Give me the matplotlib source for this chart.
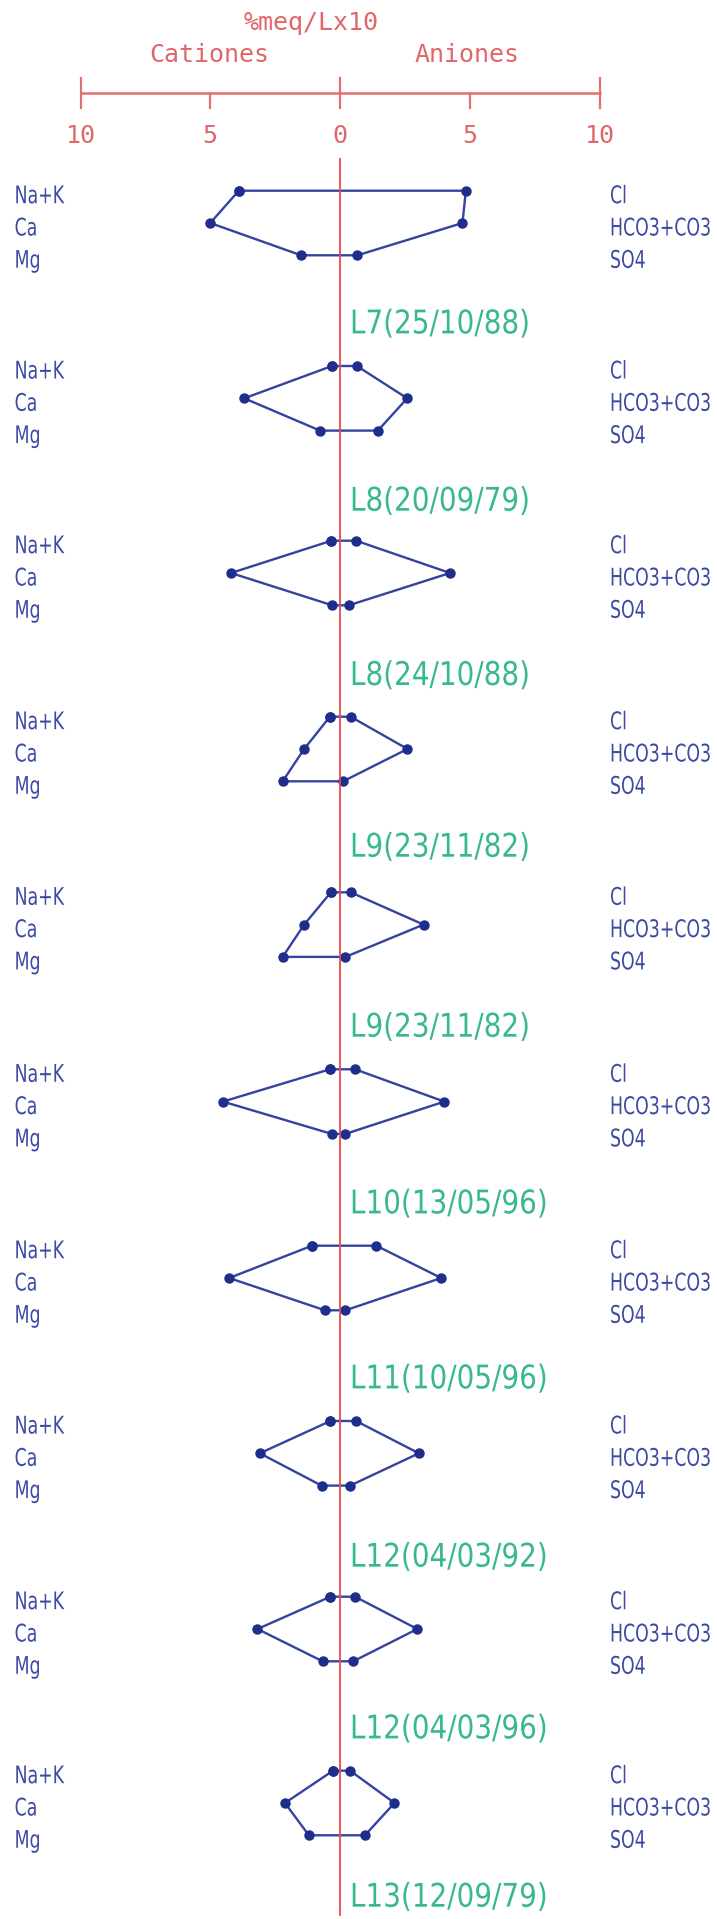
import matplotlib
matplotlib.use("Agg")
import matplotlib.pyplot as plt
from matplotlib import font_manager as fm
from matplotlib.patheffects import AbstractPathEffect
from matplotlib.transforms import Affine2D

# ---------------- data (%meq/L x10) ----------------
samples = ["L7(25/10/88)", "L8(20/09/79)", "L8(24/10/88)", "L9(23/11/82)",
           "L9(23/11/82)", "L10(13/05/96)", "L11(10/05/96)", "L12(04/03/92)",
           "L12(04/03/96)", "L13(12/09/79)"]
na_k = [3.9, 0.31, 0.33, 0.39, 0.35, 0.39, 1.08, 0.37, 0.37, 0.27]
ca   = [5.0, 3.69, 4.2, 1.38, 1.38, 4.51, 4.27, 3.09, 3.18, 2.12]
mg   = [1.5, 0.77, 0.3, 2.21, 2.21, 0.32, 0.58, 0.71, 0.67, 1.2]
cl   = [4.85, 0.65, 0.62, 0.41, 0.41, 0.58, 1.4, 0.62, 0.58, 0.39]
hco3 = [4.72, 2.59, 4.24, 2.6, 3.22, 4.02, 3.9, 3.04, 2.98, 2.1]
so4  = [0.67, 1.46, 0.34, 0.12, 0.21, 0.21, 0.21, 0.39, 0.51, 0.96]

cation_names = ["Na+K", "Ca", "Mg"]
anion_names = ["Cl", "HCO3+CO3", "SO4"]
scale_ticks = [-10, -5, 0, 5, 10]
scale_labels = ["10", "5", "0", "5", "10"]

# ---------------- layout ----------------
W, H = 717, 1919
CX, UNIT = 340.0, 25.95
def px2x(px):
    return (px - CX) / UNIT

top_rows = [190.7, 366, 540.7, 716.7, 892.3, 1069.3, 1245.7, 1421, 1596.7, 1770.7]
label_rows = [321.7, 499, 673.3, 845, 1025, 1201.7, 1376.7, 1555, 1726.7, 1895]
ROW_GAP = 32.3


class Squeeze(AbstractPathEffect):
    """Draw glyphs horizontally condensed (the reference uses a narrow plotter font)."""
    def __init__(self, sx, left_px=None):
        super().__init__()
        self.sx = sx
        self.left_px = left_px

    def draw_path(self, renderer, gc, tpath, affine, rgbFace=None):
        t = Affine2D().scale(self.sx, 1.0) + affine
        if self.left_px is not None:
            x_now = affine.transform([(0.0, 0.0)])[0][0]
            t = t + Affine2D().translate(self.left_px - x_now, 0.0)
        renderer.draw_path(gc, tpath, t, rgbFace)


sans = fm.FontProperties(family="DejaVu Sans")
mono = fm.FontProperties(family="DejaVu Sans Mono")

RED_TXT = "#e0666a"
RED_AX = "#e27070"
RED_LINE = "#ea4a4a"
BLUE = "#3442a0"
BLUE_MK = "#1f2d8c"
BLUE_TXT = "#3d4aa3"
GREEN = "#38b88e"

fig = plt.figure(figsize=(W / 100, H / 100), dpi=100)
ax = fig.add_axes([0, 0, 1, 1])
ax.set_xlim(px2x(0), px2x(W))
ax.set_ylim(H, 0)
ax.axis("off")
renderer = fig.canvas.get_renderer()


def text_w(s, prop, size):
    p = prop.copy()
    p.set_size(size)
    w, h, d = renderer.get_text_width_height_descent(s, p, ismath=False)
    return w


ROW_FS = 17.5
LAB_FS = 23.5
row_sx = 101.0 / text_w("HCO3+CO3", sans, ROW_FS)
lab_sx = 180.0 / text_w("L7(25/10/88)", sans, LAB_FS)

# ---------------- scale at top ----------------
for s, xc, yb in (("%meq/Lx10", 311, 30), ("Cationes", 209, 62), ("Aniones", 467, 62)):
    t = ax.text(px2x(xc), yb, s, color=RED_TXT, ha="center", va="baseline",
                fontproperties=mono)
    t.set_fontsize(18)
ax.plot([scale_ticks[0], scale_ticks[-1]], [93, 93], color=RED_AX, lw=1.8)
for tk, lab in zip(scale_ticks, scale_labels):
    top = 93 if abs(tk) == 5 else 78
    ax.plot([tk, tk], [top, 108], color=RED_AX, lw=1.6)
    t = ax.text(tk, 143, lab, color=RED_TXT, ha="center", va="baseline",
                fontproperties=mono)
    t.set_fontsize(18)

# central vertical line
ax.plot([0, 0], [159, 1915], color=RED_LINE, lw=1.3, zorder=5)

# ---------------- Stiff diagrams ----------------
for i in range(len(samples)):
    y0 = top_rows[i]
    ys = [y0, y0 + ROW_GAP, y0 + 2 * ROW_GAP]
    px = [-na_k[i], cl[i], hco3[i], so4[i], -mg[i], -ca[i], -na_k[i]]
    py = [ys[0], ys[0], ys[1], ys[2], ys[2], ys[1], ys[0]]
    ax.plot(px, py, color=BLUE, lw=1.7, marker="o", ms=6.5,
            mfc=BLUE_MK, mec=BLUE_MK, zorder=4)
    for k in range(3):
        t = ax.text(px2x(14.6), ys[k] + 12.5, cation_names[k], color=BLUE_TXT,
                    ha="left", va="baseline", fontproperties=sans,
                    path_effects=[Squeeze(row_sx)])
        t.set_fontsize(ROW_FS)
        t = ax.text(px2x(712), ys[k] + 12.5, anion_names[k], color=BLUE_TXT,
                    ha="right", va="baseline", fontproperties=sans,
                    path_effects=[Squeeze(row_sx, left_px=610)])
        t.set_fontsize(ROW_FS)
    t = ax.text(px2x(350), label_rows[i] + 11.7, samples[i], color=GREEN,
                ha="left", va="baseline", fontproperties=sans,
                path_effects=[Squeeze(lab_sx)])
    t.set_fontsize(LAB_FS)

fig.savefig("out.png", dpi=100, facecolor="white")
